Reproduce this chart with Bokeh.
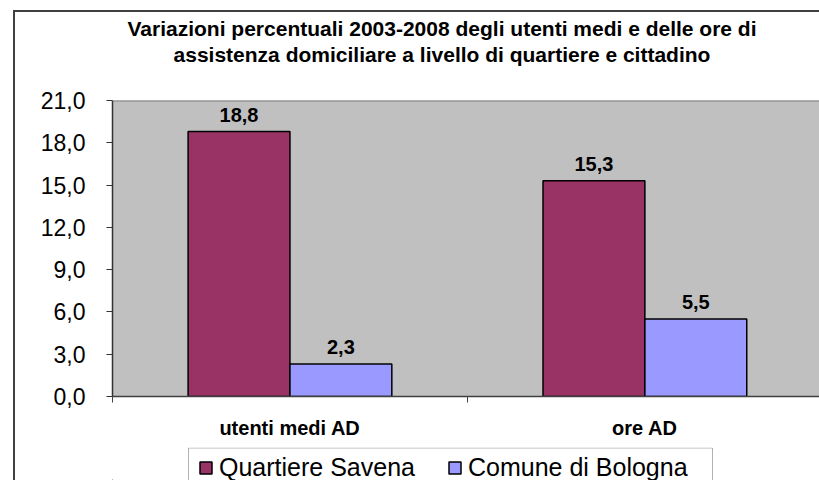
from bokeh.plotting import figure
from bokeh.layouts import column
from bokeh.models import (ColumnDataSource, Range1d, FixedTicker, Span, Div,
                          CustomJSTickFormatter, Legend, LegendItem,
                          BoxAnnotation)
from bokeh.core.properties import value
from bokeh.embed import file_html
from bokeh.resources import INLINE

# ---- data ----
categories = ["utenti medi AD", "ore AD"]
series_names = ["Quartiere Savena", "Comune di Bologna"]
series_colors = ["#993366", "#9999FF"]
savena = [18.8, 15.3]
bologna = [2.3, 5.5]
y_ticks = [0, 3, 6, 9, 12, 15, 18, 21]
title_lines = ["Variazioni percentuali 2003-2008 degli utenti medi e delle ore di",
               "assistenza domiciliare a livello di quartiere e cittadino"]

FONT = "Liberation Sans"


def fmt(v):
    return f"{v:.1f}".replace(".", ",")


centers = [i + 0.5 for i in range(len(categories))]
bar_w = 0.287
off = bar_w / 2

src_s = ColumnDataSource(dict(x=[c - off for c in centers], top=savena,
                              lab=[fmt(v) for v in savena]))
src_b = ColumnDataSource(dict(x=[c + off for c in centers], top=bologna,
                              lab=[fmt(v) for v in bologna]))

# ---------------- title ----------------
title_div = Div(
    text=("<div style=\"display:block;width:804px;box-sizing:border-box;"
          "font-family:'Liberation Sans',Arial,sans-serif;"
          "font-weight:bold;font-size:21px;line-height:26px;color:black;"
          "text-align:center;padding-top:4px;padding-left:50px;"
          "margin:0;\">" + "<br>".join(title_lines) + "</div>"),
    width=804, height=76, margin=0)

# ---------------- main chart ----------------
p = figure(width=804, height=359, output_backend="svg", toolbar_location=None,
           x_range=Range1d(0, 1.992), y_range=Range1d(0, 21),
           min_border_left=97, min_border_right=0, min_border_top=12,
           min_border_bottom=51, background_fill_color="#C0C0C0",
           border_fill_color="white", outline_line_color=None)
p.title.visible = False
p.xgrid.visible = False
p.ygrid.visible = False

p.vbar(x="x", top="top", bottom=0, width=bar_w, source=src_s,
       fill_color=series_colors[0], line_color="black", line_width=1.5)
p.vbar(x="x", top="top", bottom=0, width=bar_w, source=src_b,
       fill_color=series_colors[1], line_color="black", line_width=1.5)

for src in (src_s, src_b):
    p.text(x="x", y="top", text="lab", source=src, text_align="center",
           text_baseline="alphabetic", y_offset=-17,
           text_font=value(FONT), text_font_style="bold",
           text_font_size="20px", text_color="black")

# plot area top border
p.add_layout(Span(location=21, dimension="width", line_color="#808080",
                  line_width=2))

# y axis
p.yaxis.ticker = FixedTicker(ticks=y_ticks)
p.yaxis.formatter = CustomJSTickFormatter(
    code="return tick.toFixed(1).replace('.', ',');")
p.yaxis.major_label_text_font = FONT
p.yaxis.major_label_text_font_size = "23px"
p.yaxis.major_label_text_color = "black"
p.yaxis.major_label_standoff = 21
p.yaxis.major_tick_out = 6
p.yaxis.major_tick_in = 0
p.yaxis.minor_tick_out = 0
p.yaxis.minor_tick_in = 0
p.yaxis.axis_line_color = "#333333"
p.yaxis.major_tick_line_color = "#333333"
p.yaxis.axis_line_width = 1.5

# x axis
p.xaxis.ticker = FixedTicker(ticks=centers, minor_ticks=[0, 1, 2])
p.xaxis.formatter = CustomJSTickFormatter(
    args=dict(labels=categories),
    code="return labels[Math.floor(tick)];")
p.xaxis.major_label_text_font = FONT
p.xaxis.major_label_text_font_size = "20px"
p.xaxis.major_label_text_font_style = "bold"
p.xaxis.major_label_text_color = "black"
p.xaxis.major_label_standoff = 14
p.xaxis.major_tick_out = 0
p.xaxis.major_tick_in = 0
p.xaxis.minor_tick_out = 6
p.xaxis.minor_tick_in = 0
p.xaxis.axis_line_color = "#404040"
p.xaxis.minor_tick_line_color = "#404040"
p.xaxis.axis_line_width = 1.5

# ---------------- legend strip ----------------
# its frame is aligned with the chart's frame; x range in pixels of that frame
q = figure(width=804, height=33, output_backend="svg", toolbar_location=None,
           x_range=Range1d(0, 707), y_range=Range1d(0, 33),
           x_axis_location=None, y_axis_location=None,
           min_border_left=97, min_border_right=0,
           min_border_top=0, min_border_bottom=0,
           background_fill_color="white", border_fill_color="white",
           outline_line_color=None)
q.title.visible = False
q.grid.visible = False
q.extra_x_ranges = {"hidden": Range1d(1000, 2000)}
q.extra_y_ranges = {"hidden": Range1d(1000, 2000)}

# legend frame (box cut off by the bottom edge, like the reference)
q.add_layout(BoxAnnotation(left=76, right=600, top=32.5, bottom=-10,
                           fill_color=None, line_color="black",
                           line_width=1))

items = []
for name, col, src in zip(series_names, series_colors, (src_s, src_b)):
    r = q.vbar(x="x", top="top", bottom=0, width=bar_w, source=src,
               x_range_name="hidden", y_range_name="hidden",
               fill_color=col, line_color="black", line_width=1.5)
    items.append(LegendItem(label=name, renderers=[r]))
lg = Legend(items=items, orientation="horizontal", location=(86, -2),
            margin=0, padding=3, spacing=32, glyph_width=15, glyph_height=15,
            label_standoff=6, label_height=20, label_text_font=FONT,
            label_text_font_size="25px", label_text_color="black",
            border_line_color=None, background_fill_alpha=0)
q.add_layout(lg, "center")

layout = column(title_div, p, q, spacing=0)
layout.styles = {"border-left": "2px solid #404040",
                 "border-top": "2px solid #404040",
                 "margin-left": "13px", "margin-top": "10px"}

open("out.html", "w").write(file_html(layout, INLINE))
